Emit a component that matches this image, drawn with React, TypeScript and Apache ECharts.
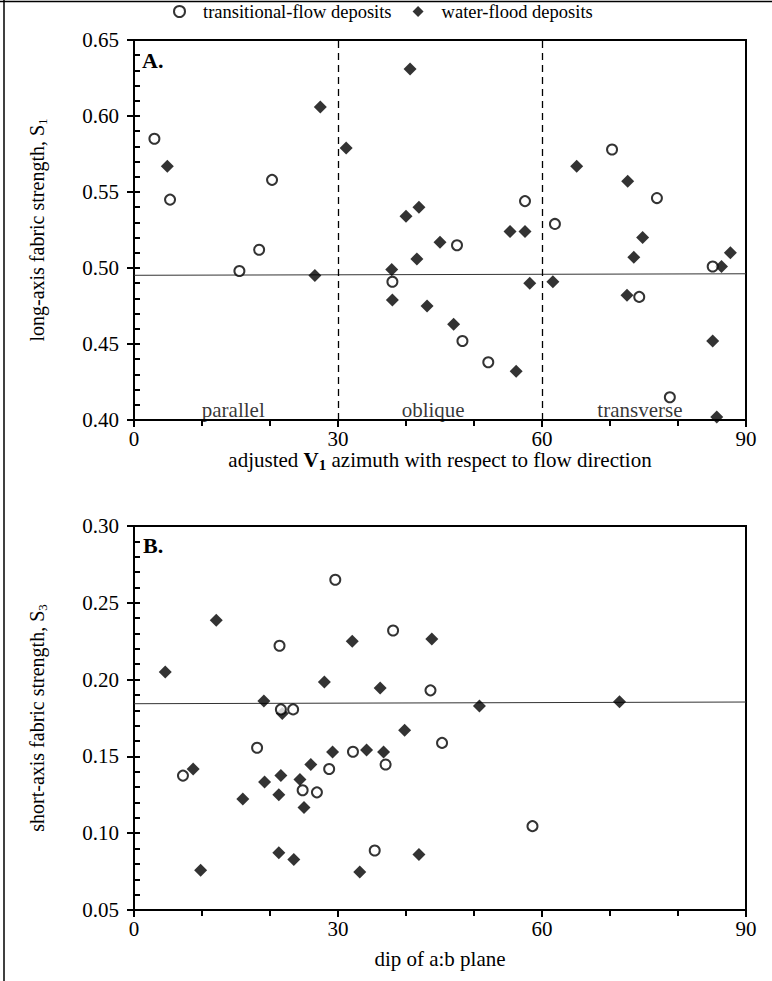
import React, { useEffect, useRef } from "react";
import * as echarts from "echarts";

// Panel A: adjusted V1 azimuth (deg) vs long-axis fabric strength S1
const azimuthTransitional: number[][] = [
  [3.0, 0.585], [5.3, 0.545], [15.5, 0.498], [18.4, 0.512], [20.3, 0.558],
  [38.0, 0.491], [47.5, 0.515], [48.3, 0.452], [52.1, 0.438], [57.5, 0.544],
  [61.9, 0.529], [70.3, 0.578], [74.3, 0.481], [76.9, 0.546], [78.8, 0.415],
  [85.1, 0.501],
];
const azimuthWaterFlood: number[][] = [
  [4.9, 0.567], [26.6, 0.495], [27.4, 0.606], [31.2, 0.579], [37.9, 0.499],
  [38.0, 0.479], [40.0, 0.534], [40.6, 0.631], [41.6, 0.506], [41.9, 0.540],
  [43.1, 0.475], [45.0, 0.517], [47.0, 0.463], [55.3, 0.524], [56.2, 0.432],
  [57.5, 0.524], [58.2, 0.490], [61.6, 0.491], [65.1, 0.567], [72.5, 0.482],
  [72.6, 0.557], [73.5, 0.507], [74.8, 0.520], [85.1, 0.452], [85.7, 0.402],
  [86.4, 0.501], [87.7, 0.510],
];
const azimuthMeanLine: number[][] = [[0, 0.4952], [90, 0.4962]];
const zoneBounds = [30, 60];
const zoneNames = ["parallel", "oblique", "transverse"];
const zoneCentres = [14.6, 44.0, 74.4];

// Panel B: dip of a:b plane (deg) vs short-axis fabric strength S3
const dipTransitional: number[][] = [
  [7.2, 0.1375], [18.1, 0.1556], [21.4, 0.222], [21.6, 0.1806], [23.4, 0.1806],
  [24.8, 0.128], [26.9, 0.1266], [28.7, 0.1418], [29.6, 0.265], [32.2, 0.153],
  [35.4, 0.0887], [37.0, 0.1447], [38.1, 0.232], [43.6, 0.193], [45.3, 0.1588],
  [58.6, 0.1046],
];
const dipWaterFlood: number[][] = [
  [4.6, 0.205], [8.7, 0.1418], [9.8, 0.0759], [12.1, 0.2387], [16.0, 0.1223],
  [19.1, 0.186], [19.2, 0.1334], [21.3, 0.1251], [21.3, 0.0872], [21.6, 0.1375],
  [21.8, 0.178], [23.5, 0.0829], [24.4, 0.1349], [25.0, 0.1168], [26.0, 0.1447],
  [28.0, 0.1985], [29.2, 0.1529], [32.1, 0.225], [33.2, 0.0748], [34.2, 0.1542],
  [36.2, 0.1946], [36.7, 0.1529], [39.8, 0.1671], [41.9, 0.0861], [43.8, 0.2265],
  [50.8, 0.1828], [71.4, 0.1855],
];
const dipMeanLine: number[][] = [[0, 0.1843], [90, 0.1854]];

const xTicks = { min: 0, max: 90, interval: 30 };
const s1Ticks = { min: 0.4, max: 0.65, interval: 0.05 };
const s3Ticks = { min: 0.05, max: 0.3, interval: 0.05 };

const SERIF = "Liberation Serif";
const TRANSITIONAL = "transitional-flow deposits";
const WATER = "water-flood deposits";

const circleStyle = { color: "#fff", borderColor: "#000", borderWidth: 2 };
const diamondStyle = { color: "#000", borderColor: "#000", borderWidth: 0 };

function xAxisFor(gridIndex: number, name: string, rich: any, nameGap: number) {
  return {
    type: "value",
    gridIndex,
    ...xTicks,
    name,
    nameLocation: "middle",
    nameGap,
    nameTextStyle: { fontFamily: SERIF, fontSize: 21, color: "#000", rich },
    axisLine: { show: true, onZero: false, lineStyle: { color: "#000", width: 2 } },
    axisTick: { show: true, inside: false, length: 7, lineStyle: { color: "#000", width: 2 } },
    minorTick: { show: true, splitNumber: 3, length: 6, lineStyle: { color: "#000", width: 2 } },
    axisLabel: { fontFamily: SERIF, fontSize: 21, color: "#000", margin: 8 },
    splitLine: { show: false },
  };
}

function yAxisFor(gridIndex: number, ticks: any, name: string, rich: any) {
  return {
    type: "value",
    gridIndex,
    ...ticks,
    name,
    nameLocation: "middle",
    nameRotate: 90,
    nameGap: 85,
    nameTextStyle: { fontFamily: SERIF, fontSize: 20, color: "#000", rich },
    axisLine: { show: true, onZero: false, lineStyle: { color: "#000", width: 2 } },
    axisTick: { show: true, inside: false, length: 7, lineStyle: { color: "#000", width: 2 } },
    axisLabel: {
      fontFamily: SERIF,
      fontSize: 21,
      color: "#000",
      margin: 15,
      formatter: (v: number) => v.toFixed(2),
    },
    splitLine: { show: false },
  };
}

// fine 0.01 ticks drawn on the inner side of the value axis
function fineYAxis(gridIndex: number, ticks: any) {
  return {
    type: "value",
    gridIndex,
    min: ticks.min,
    max: ticks.max,
    interval: 0.01,
    position: "left",
    axisLine: { show: false },
    axisTick: { show: true, inside: true, length: 6, lineStyle: { color: "#000", width: 2 } },
    axisLabel: { show: false },
    splitLine: { show: false },
  };
}

const subRich = {
  n: { fontFamily: SERIF, fontSize: 21, color: "#000", lineHeight: 24 },
  m: { fontFamily: SERIF, fontSize: 20, color: "#000", lineHeight: 24 },
  s: { fontFamily: SERIF, fontSize: 13, color: "#000", lineHeight: 12, verticalAlign: "bottom" },
  b: { fontFamily: SERIF, fontSize: 21, fontWeight: "bold", color: "#000", lineHeight: 24 },
  bs: { fontFamily: SERIF, fontSize: 15, fontWeight: "bold", color: "#000", lineHeight: 14, verticalAlign: "bottom" },
};

export default function App() {
  const ref = useRef<HTMLDivElement>(null);

  useEffect(() => {
    if (!ref.current) return;
    const chart = echarts.init(ref.current, null, { renderer: "svg" });

    const zoneLabelData = zoneNames.map((n, i) => [zoneCentres[i], 0.4065, n]);

    chart.setOption({
      animation: false,
      backgroundColor: "#fff",
      textStyle: { fontFamily: SERIF },
      legend: {
        data: [TRANSITIONAL, WATER],
        top: 2,
        left: 173,
        padding: 0,
        itemGap: 21,
        itemWidth: 11,
        itemHeight: 11,
        textStyle: { fontFamily: SERIF, fontSize: 18.5, color: "#000", padding: [0, 0, 0, 13] },
      },
      grid: [
        { left: 134, top: 40, width: 612, height: 380, show: true, borderColor: "#000", borderWidth: 2 },
        { left: 134, top: 526, width: 612, height: 384, show: true, borderColor: "#000", borderWidth: 2 },
      ],
      xAxis: [
        xAxisFor(0, "{n|adjusted }{b|V}{bs|1}{n| azimuth with respect to flow direction}", subRich, 25),
        xAxisFor(1, "{n|dip of a:b plane}", subRich, 37),
      ],
      yAxis: [
        yAxisFor(0, s1Ticks, "{m|long-axis fabric strength, S}{s|1}", subRich),
        fineYAxis(0, s1Ticks),
        yAxisFor(1, s3Ticks, "{m|short-axis fabric strength, S}{s|3}", subRich),
        fineYAxis(1, s3Ticks),
      ],
      graphic: [
        { type: "line", shape: { x1: 0, y1: 1.5, x2: 772, y2: 1.5 }, style: { stroke: "#000", lineWidth: 1.5 } },
        { type: "line", shape: { x1: 4, y1: 0, x2: 4, y2: 981 }, style: { stroke: "#000", lineWidth: 1.5 } },
        { type: "text", left: 142, top: 49, style: { text: "A.", font: `bold 22px '${SERIF}'`, fill: "#000" } },
        { type: "text", left: 143, top: 534, style: { text: "B.", font: `bold 22px '${SERIF}'`, fill: "#000" } },
      ],
      series: [
        {
          name: "mean-a",
          type: "line",
          xAxisIndex: 0,
          yAxisIndex: 0,
          data: azimuthMeanLine,
          symbol: "none",
          silent: true,
          lineStyle: { color: "#333", width: 1 },
          markLine: {
            silent: true,
            symbol: "none",
            label: { show: false },
            lineStyle: { color: "#000", width: 1.3, type: [7, 5] },
            data: zoneBounds.map((x) => ({ xAxis: x })),
          },
          z: 1,
        },
        {
          name: "zones",
          type: "scatter",
          xAxisIndex: 0,
          yAxisIndex: 0,
          data: zoneLabelData,
          symbolSize: 0,
          silent: true,
          label: {
            show: true,
            position: "inside",
            formatter: (p: any) => p.data[2],
            fontFamily: SERIF,
            fontSize: 21,
            color: "#000",
          },
          z: 1,
        },
        {
          name: WATER,
          type: "scatter",
          xAxisIndex: 0,
          yAxisIndex: 0,
          data: azimuthWaterFlood,
          symbol: "diamond",
          symbolSize: 13,
          itemStyle: diamondStyle,
          z: 3,
        },
        {
          name: TRANSITIONAL,
          type: "scatter",
          xAxisIndex: 0,
          yAxisIndex: 0,
          data: azimuthTransitional,
          symbol: "circle",
          symbolSize: 10,
          itemStyle: circleStyle,
          z: 4,
        },
        {
          name: "mean-b",
          type: "line",
          xAxisIndex: 1,
          yAxisIndex: 2,
          data: dipMeanLine,
          symbol: "none",
          silent: true,
          lineStyle: { color: "#333", width: 1 },
          z: 1,
        },
        {
          name: WATER,
          type: "scatter",
          xAxisIndex: 1,
          yAxisIndex: 2,
          data: dipWaterFlood,
          symbol: "diamond",
          symbolSize: 13,
          itemStyle: diamondStyle,
          z: 3,
        },
        {
          name: TRANSITIONAL,
          type: "scatter",
          xAxisIndex: 1,
          yAxisIndex: 2,
          data: dipTransitional,
          symbol: "circle",
          symbolSize: 10,
          itemStyle: circleStyle,
          z: 4,
        },
      ],
    });

    return () => chart.dispose();
  }, []);

  return (
    <div
      ref={ref}
      style={{ position: "fixed", left: 0, top: 0, width: 772, height: 981, background: "#fff" }}
    />
  );
}
